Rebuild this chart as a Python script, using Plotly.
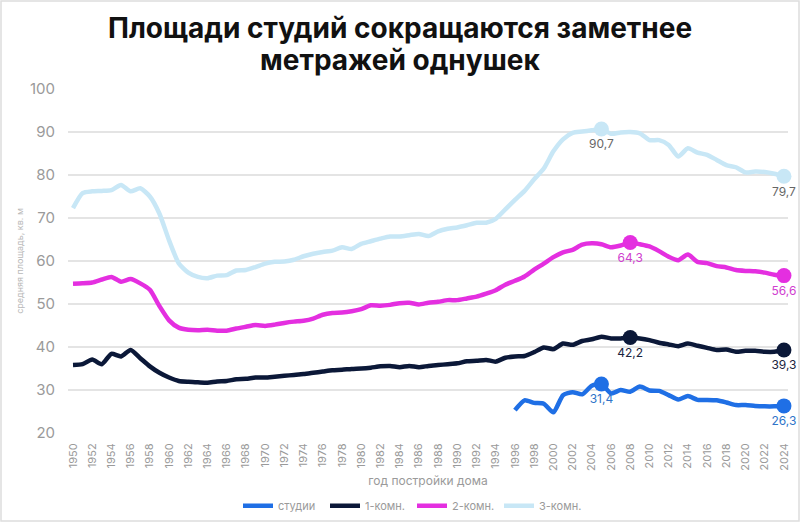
"""Average flat area by year of construction, by flat type."""

import plotly.graph_objects as go

YEARS = list(range(1950, 2025))
STUDIO_YEARS = list(range(1996, 2025))

STUDIO = [
    25.3, 27.6, 27.0, 26.8, 24.8, 28.8, 29.5, 29.0, 31.0, 31.4,
    29.2, 30.0, 29.6, 30.8, 29.9, 29.8, 28.8, 27.8, 28.6, 27.7,
    27.7, 27.6, 27.1, 26.5, 26.5, 26.3, 26.2, 26.2, 26.3,
]

ROOM1 = [
    35.8, 36.0, 37.1, 36.0, 38.4, 37.8, 39.3, 37.4, 35.5, 34.0,
    32.9, 32.1, 31.9, 31.8, 31.7, 32.0, 32.1, 32.5, 32.6, 32.9,
    32.9, 33.1, 33.3, 33.5, 33.7, 34.0, 34.3, 34.6, 34.7, 34.9,
    35.0, 35.2, 35.5, 35.6, 35.3, 35.6, 35.3, 35.6, 35.8, 36.0,
    36.2, 36.7, 36.8, 37.0, 36.6, 37.5, 37.8, 37.9, 38.8, 39.9,
    39.5, 40.8, 40.5, 41.4, 41.8, 42.4, 42.0, 42.0, 42.2, 42.0,
    41.6, 41.0, 40.6, 40.2, 40.8, 40.3, 39.8, 39.3, 39.4, 38.9,
    39.1, 39.1, 38.9, 38.9, 39.3,
]

ROOM2 = [
    54.7, 54.8, 55.0, 55.7, 56.3, 55.2, 55.8, 54.8, 53.3, 49.5,
    46.2, 44.5, 44.0, 43.9, 44.0, 43.8, 43.8, 44.3, 44.7, 45.1,
    44.9, 45.2, 45.6, 45.9, 46.1, 46.6, 47.5, 47.9, 48.0, 48.3,
    48.8, 49.7, 49.6, 49.8, 50.2, 50.3, 49.9, 50.3, 50.5, 50.9,
    50.9, 51.3, 51.7, 52.4, 53.2, 54.5, 55.4, 56.4, 58.0, 59.4,
    60.9, 62.0, 62.6, 63.8, 64.1, 63.9, 63.2, 63.6, 64.3, 63.9,
    63.4, 62.3, 61.0, 60.2, 61.5, 59.8, 59.5, 58.8, 58.5, 57.9,
    57.7, 57.6, 57.3, 56.8, 56.6,
]

ROOM3 = [
    72.3, 75.8, 76.2, 76.3, 76.5, 77.7, 76.2, 76.9, 75.0, 71.0,
    64.8, 59.5, 57.3, 56.3, 56.0, 56.6, 56.7, 57.8, 57.9, 58.6,
    59.4, 59.8, 59.9, 60.3, 61.1, 61.7, 62.1, 62.4, 63.2, 62.8,
    64.0, 64.6, 65.2, 65.7, 65.7, 66.0, 66.3, 65.8, 66.9, 67.5,
    67.8, 68.3, 68.9, 68.9, 69.8, 72.0, 74.2, 76.3, 79.0, 81.5,
    85.5, 88.3, 89.8, 90.1, 90.4, 90.7, 89.6, 89.9, 90.0, 89.7,
    88.1, 88.1, 87.0, 84.3, 86.2, 85.2, 84.7, 83.5, 82.3, 81.8,
    80.6, 80.8, 80.7, 80.3, 79.7,
]

# series: name, x, y, line colour, label colour, years to mark
SERIES = [
    ("студии", STUDIO_YEARS, STUDIO, "#1f6fe5", "#2f74c9", [2005, 2024]),
    ("1-комн.", YEARS, ROOM1, "#0b1838", "#1a2440", [2008, 2024]),
    ("2-комн.", YEARS, ROOM2, "#e42fe0", "#d040cf", [2008, 2024]),
    ("3-комн.", YEARS, ROOM3, "#c8e7f6", "#666666", [2005, 2024]),
]

TITLE_LINES = ["Площади студий сокращаются заметнее", "метражей однушек"]

Y_TICKS = [20, 30, 40, 50, 60, 70, 80, 90, 100]
X_TICKS = list(range(1950, 2025, 2))

GREY = "#9a9a9a"
FONT = "Inter, Roboto, sans-serif"

fig = go.Figure()

# draw the light 3-room line at the back, studios on top
names = [s[0] for s in SERIES]
for name, xs, ys, color, label_color, marks in reversed(SERIES):
    fig.add_trace(go.Scatter(
        x=xs, y=ys, name=name, mode="lines",
        line=dict(color=color, width=4.5, shape="spline", smoothing=0.6),
        legendrank=names.index(name) + 1,
    ))
    mx = [x for x in xs if x in marks]
    my = [ys[xs.index(x)] for x in mx]
    fig.add_trace(go.Scatter(
        x=mx, y=my, mode="markers+text", showlegend=False,
        marker=dict(color=color, size=15),
        texttemplate="%{y:.1f}", textposition="bottom center",
        textfont=dict(color=label_color, size=12, family=FONT),
        cliponaxis=False,
    ))

# two title lines as separate texts, plotly's <br> spacing is too loose here
for line, ypos in zip(TITLE_LINES, [1 + 61 / 344, 1 + 29 / 344]):
    fig.add_annotation(
        text=line, xref="paper", yref="paper", x=332 / 720, y=ypos,
        xanchor="center", yanchor="middle", showarrow=False,
        font=dict(size=28, color="#111111", family=FONT, weight=700),
    )

fig.update_layout(
    width=800, height=522,
    paper_bgcolor="white", plot_bgcolor="white",
    separators=", ",
    font=dict(family=FONT, color=GREY),
    margin=dict(l=68, r=12, t=89, b=89),
    showlegend=True,
    legend=dict(
        orientation="h", x=238 / 800, xanchor="left", xref="container",
        y=0.031, yanchor="middle", yref="container",
        font=dict(size=11, color=GREY), itemwidth=30,
        entrywidth=42, tracegroupgap=0,
    ),
    xaxis=dict(
        range=[1949.48, 2024.42], tickvals=X_TICKS, tickangle=-90,
        tickfont=dict(size=11, color=GREY), showgrid=False, zeroline=False,
        ticks="outside", ticklen=5, tickcolor="rgba(0,0,0,0)",
        showline=False, automargin=False,
        title=dict(text="год постройки дома", font=dict(size=12, color=GREY), standoff=6),
    ),
    yaxis=dict(
        range=[20, 100], tickvals=Y_TICKS, automargin=False,
        tickfont=dict(size=15, color=GREY), gridcolor="#e4e4e4", gridwidth=1.5,
        zeroline=False, ticks="outside", ticklen=9, tickcolor="rgba(0,0,0,0)",
        showline=False,
        title=dict(text="средняя площадь, кв. м", font=dict(size=9, color="#b8b8b8"), standoff=4),
    ),
    shapes=[dict(
        type="rect", xref="paper", yref="paper",
        x0=-67 / 720, x1=1 + 11 / 720, y0=-88 / 344, y1=1 + 88 / 344,
        line=dict(color="#dddddd", width=1.5), layer="below",
    )],
)

# the page's default body margin would shift the 800x522 figure
fig.write_html(
    "out.html",
    config={"displayModeBar": False},
    post_script="document.body.style.margin = '0';",
)
